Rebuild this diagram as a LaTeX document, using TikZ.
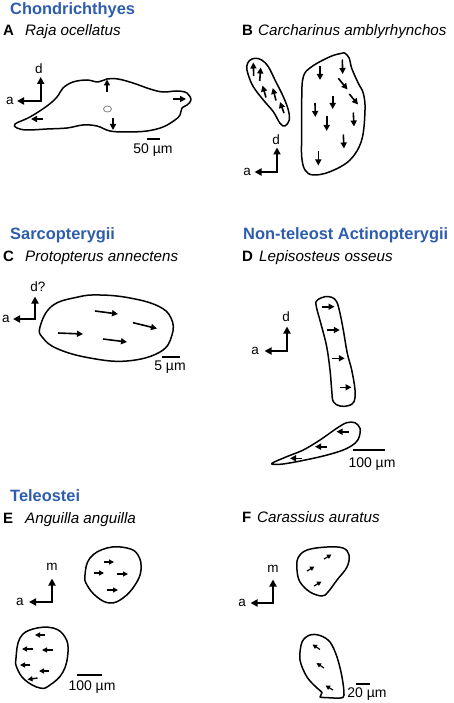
\documentclass[tikz,border=0pt]{standalone}
\usepackage{fontspec}
\setmainfont{Liberation Sans}
\usetikzlibrary{arrows.meta}
\definecolor{titleblue}{RGB}{46,93,173}
\begin{document}
\begin{tikzpicture}[x=1pt,y=-1pt,
  title/.style={font=\fontsize{16.4}{18}\selectfont\bfseries, text=titleblue, anchor=base west, inner sep=0},
  letter/.style={font=\fontsize{15}{17}\selectfont\bfseries, anchor=base west, inner sep=0},
  species/.style={font=\fontsize{15.2}{17}\selectfont\itshape, anchor=base west, inner sep=0},
  axlab/.style={font=\fontsize{13.5}{15}\selectfont, inner sep=0},
  scalelab/.style={font=\fontsize{14}{16}\selectfont, anchor=base, inner sep=0},
  outline/.style={line width=1.5pt, line join=round},
  axes/.style={line width=2pt, line join=miter, {Triangle[length=7pt,width=7pt]}-{Triangle[length=7pt,width=7pt]}},
  vec/.style={line width=1.6pt, -{Triangle[length=6pt,width=6pt]}},
  vecs/.style={line width=1.4pt, -{Triangle[length=5pt,width=5pt]}},
  vect/.style={line width=1.2pt, -{Triangle[length=4.5pt,width=4.5pt]}},
  scalebar/.style={line width=1.3pt}]
\useasboundingbox (0,0) rectangle (454,703);

% ---------------- Panel A ----------------
\node[title] (tA) at (10,15) {Chondrichthyes};
\node[letter] (lA) at (3,36) {A};
\node[species] (sA) at (25,36) {Raja ocellatus};
\coordinate (cA) at (40.7,101); \coordinate (uA) at (40.7,77); \coordinate (wA) at (17,101);
\draw[axes] (uA) -- (cA) -- (wA);
\node[axlab] (dA) at (39,69) {d};
\node[axlab] (aA) at (10,101) {a};
\draw[outline] plot[smooth cycle, tension=0.6] coordinates {
 (15,124) (30,117) (47,106) (57,97) (63,88) (73,82) (87,80) (98,82) (107,79) (118,79)
 (133,83) (150,89) (163,92) (177,91) (187,93) (191,100) (187,105) (182,108) (180,115)
 (175,120) (163,127) (147,131) (127,132) (110,131) (97,126) (83,125) (67,128) (47,129) (27,130) (17,128)};
\draw[gray, line width=0.8pt] (107.5,109) ellipse (4 and 3);
\draw[vec] (107,92) -- (107,79.5);
\draw[vec] (113,118) -- (113,130);
\draw[vec] (173,99) -- (186,99);
\draw[vec] (43,119) -- (31,119);
\draw[scalebar] (147,139) -- (160,139);
\node[scalelab] (bA) at (153,154) {50 µm};

% ---------------- Panel B ----------------
\node[letter] (lB) at (242,36) {B};
\node[species] (sB) at (258,36) {Carcharinus amblyrhynchos};
\draw[outline] plot[smooth cycle, tension=0.6] coordinates {
 (249.3,60.7) (255,58.3) (261.7,60) (268.3,66.7) (275,80) (283.3,96.7) (288.3,110) (289.3,120)
 (285,126) (280,123.3) (273.3,111.7) (263.3,100) (253.3,86.7) (248.3,75) (246.7,66.7)};
\draw[vec] (253.7,76) -- (253.3,62.5);
\draw[vec] (259.7,81) -- (260.7,67.5);
\draw[vec] (266,97.5) -- (262.5,85.5);
\draw[vec] (276,100.5) -- (272.8,88);
\draw[vec] (284,113) -- (280,102);
\draw[outline] plot[smooth cycle, tension=0.6] coordinates {
 (345,53.3) (349.3,58.3) (351.7,68.3) (358.3,83.3) (363.3,93.3) (365,110) (361.7,140) (350,160)
 (330,171.7) (313.3,175) (305,170) (301.7,156.7) (301.7,133.3) (301.7,100) (303.3,76.7)
 (311.7,66.7) (330,56.7) (341.7,53.3)};
\draw[vec] (320,66) -- (320,80);
\draw[vec] (342.3,59.5) -- (342.7,74);
\draw[vec] (338.3,78.3) -- (347.5,89.5);
\draw[vec] (349.3,94) -- (358,104.5);
\draw[vec] (315,103) -- (315.3,117);
\draw[vec] (332.7,96) -- (332.7,109);
\draw[vec] (353.3,112.5) -- (354,126.5);
\draw[vec] (326.7,116.5) -- (326.7,131);
\draw[vec] (343.3,134.5) -- (344,148.5);
\draw[vec] (318.3,151.5) -- (318.3,165.5);
\coordinate (cB) at (277,172); \coordinate (uB) at (277,147.5); \coordinate (wB) at (254.5,172);
\draw[axes] (uB) -- (cB) -- (wB);
\node[axlab] (dB) at (276,140) {d};
\node[axlab] (aB) at (247,172) {a};

% ---------------- Panel C ----------------
\node[title] (tC) at (10,239) {Sarcopterygii};
\node[letter] (lC) at (3,261) {C};
\node[species] (sC) at (25,261) {Protopterus annectens};
\coordinate (cC) at (35,319); \coordinate (uC) at (35,296.5); \coordinate (wC) at (13,319);
\draw[axes] (uC) -- (cC) -- (wC);
\node[axlab] (dC) at (38,287) {d?};
\node[axlab] (aC) at (6,319) {a};
\draw[outline] plot[smooth cycle, tension=0.7] coordinates {
 (40,327) (52,306) (78,297) (100,295) (130,298) (158,306) (171,318) (172,335) (160,352)
 (127,361) (90,358) (58,349) (43,338)};
\draw[vec] (95,311) -- (118,314);
\draw[vec] (133,322.7) -- (157,328.5);
\draw[vec] (58,333) -- (83,334);
\draw[vec] (103,339) -- (127,342);
\draw[scalebar] (162,357) -- (180,357);
\node[scalelab] (bC) at (170,370) {5 µm};

% ---------------- Panel D ----------------
\node[title] (tD) at (243,239) {Non-teleost Actinopterygii};
\node[letter] (lD) at (242,261) {D};
\node[species] (sD) at (259,261) {Lepisosteus osseus};
\coordinate (cD) at (287,351); \coordinate (uD) at (287,326.5); \coordinate (wD) at (264.5,351);
\draw[axes] (uD) -- (cD) -- (wD);
\node[axlab] (dD) at (286,317) {d};
\node[axlab] (aD) at (255,351) {a};
\draw[outline] plot[smooth cycle, tension=0.6] coordinates {
 (318.3,299.3) (325,296.7) (331.7,297.3) (336.7,301.7) (340,313.3) (343.3,330) (347.3,353.3)
 (351.7,370) (355,390) (354,401.7) (348.3,405.7) (340,406) (333.3,401.7) (331.7,390) (330,370)
 (326.7,346.7) (321.7,326.7) (316.7,308.3) (316,301.7)};
\draw[vec] (321.7,306.7) -- (334.5,306.7);
\draw[vec] (327.3,330) -- (339.8,330);
\draw[vec] (332.3,358.3) -- (344.8,358.3);
\draw[vec] (340,387.3) -- (351.5,387.3);
\draw[outline] plot[smooth cycle, tension=0.55] coordinates {
 (271.7,463.5) (286.7,456.7) (303.3,450) (320,440) (336.7,428.3) (346.7,422.7) (355,422.7)
 (360,428.3) (359.3,436.7) (355,443.3) (343.3,450) (323.3,456) (296.7,461.7) (280,464.3)};
\draw[vec] (348.5,431.7) -- (336.5,431.7);
\draw[vec] (327,446.7) -- (315,446.7);
\draw[vec] (302,458.3) -- (290,458.3);
\draw[scalebar] (353,450) -- (385,450);
\node[scalelab] (bD) at (372,467) {100 µm};

% ---------------- Panel E ----------------
\node[title] (tE) at (10,501) {Teleostei};
\node[letter] (lE) at (3,523) {E};
\node[species] (sE) at (25,523) {Anguilla anguilla};
\coordinate (cE) at (52,602); \coordinate (uE) at (52,578.5); \coordinate (wE) at (29,602);
\draw[axes] (uE) -- (cE) -- (wE);
\node[axlab] (mE) at (52,567) {m};
\node[axlab] (aE) at (20,602) {a};
\draw[outline] plot[smooth cycle, tension=0.7] coordinates {
 (85,575) (90,558) (107,548) (127,548) (138,555) (141,570) (135,585) (123,598) (110,603) (97,597) (87,585)};
\draw[vecs] (104,562) -- (114,562);
\draw[vecs] (94,573) -- (104,573);
\draw[vecs] (117,574) -- (128,574);
\draw[vecs] (107,590) -- (118,590);
\draw[outline] plot[smooth cycle, tension=0.7] coordinates {
 (16,658) (20,638) (33,629) (53,628) (65,637) (68,652) (63,672) (50,685) (40,688) (25,680) (17,668)};
\draw[vecs] (45,635) -- (35,635);
\draw[vecs] (33,649) -- (22,649);
\draw[vecs] (53,650) -- (42,650);
\draw[vecs] (30,665) -- (20,665);
\draw[vecs] (49,671) -- (39,671);
\draw[vecs] (37.5,678) -- (27.5,679.5);
\draw[scalebar] (77,675) -- (102,675);
\node[scalelab] (bE) at (92,690) {100 µm};

% ---------------- Panel F ----------------
\node[letter] (lF) at (242,522) {F};
\node[species] (sF) at (257,522) {Carassius auratus};
\coordinate (cF) at (273,603); \coordinate (uF) at (273,579.5); \coordinate (wF) at (250.5,603);
\draw[axes] (uF) -- (cF) -- (wF);
\node[axlab] (mF) at (273,569) {m};
\node[axlab] (aF) at (242,603) {a};
\draw[outline] plot[smooth cycle, tension=0.6] coordinates {
 (298,558) (307,550) (327,547) (343,548) (349,555) (347,567) (337,580) (328,592) (322,596) (310,592) (300,582) (297,570)};
\draw[vect] (324,559) -- (331.5,554.5);
\draw[vect] (307,571) -- (314.5,566.5);
\draw[vect] (314,586) -- (321.5,581.5);
\draw[outline] plot[smooth cycle, tension=0.55] coordinates {
 (310,635) (320,635.5) (330,642) (337,657) (342,677) (344,695) (340,698) (325,697.5) (320,697)
 (322,692.5) (317,688) (307,677) (300,660) (302,642)};
\draw[vect] (320,649.5) -- (312.5,644.5);
\draw[vect] (324,668) -- (316.5,663);
\draw[vect] (333,690) -- (325.5,685.5);
\draw[scalebar] (356,684) -- (370,684);
\node[scalelab] (bF) at (367,697) {20 µm};
\end{tikzpicture}
\end{document}
